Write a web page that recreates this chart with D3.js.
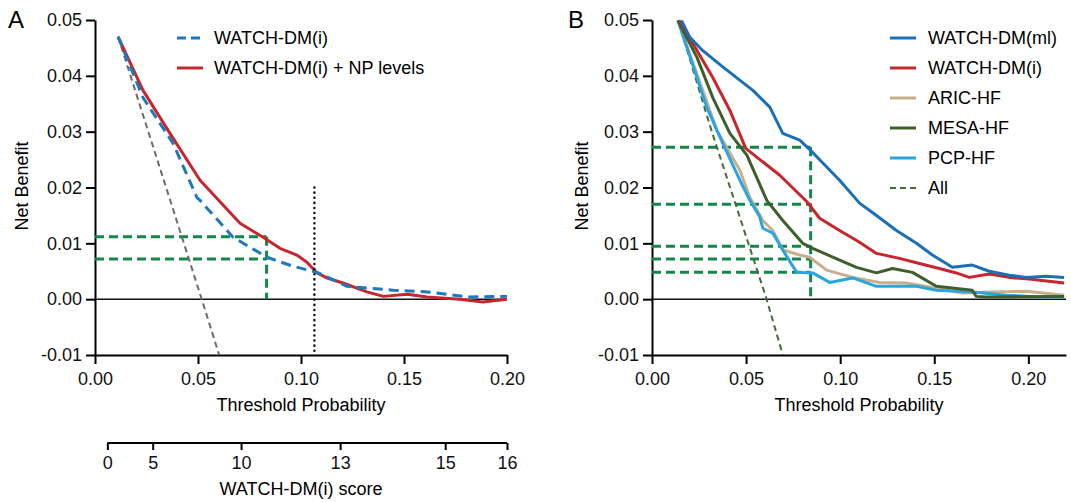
<!DOCTYPE html>
<meta charset="utf-8">
<script src="https://d3js.org/d3.v7.min.js"></script>
<style>
  body { margin: 0; background: #fff; }
  svg text { font-family: "Liberation Sans", Arial, sans-serif; }
</style>
<div id="chart"></div>
<script>

// ---- Panel A data (threshold probability, net benefit) ----
var watchI_x = [0.0112, 0.0233, 0.0379, 0.0495, 0.051, 0.067, 0.0835, 0.0961, 0.1078, 0.1223, 0.1447, 0.1612, 0.1806, 0.2]
var watchI_y = [0.047, 0.0361, 0.0279, 0.0182, 0.0177, 0.0111, 0.0075, 0.0059, 0.0048, 0.0023, 0.0016, 0.0013, 0.0004, 0.0005]

var watchNP_x = [0.0112, 0.0233, 0.0364, 0.051, 0.0704, 0.0816, 0.0898, 0.098, 0.1029, 0.1078, 0.1126, 0.1204, 0.132, 0.14, 0.1515, 0.1612, 0.177, 0.1883, 0.2]
var watchNP_y = [0.047, 0.0374, 0.0297, 0.0213, 0.0136, 0.0111, 0.0091, 0.0079, 0.0066, 0.0047, 0.0038, 0.0029, 0.0013, 0.0005, 0.0009, 0.0004, 0.0, -0.0005, 0.0]

var allA_x = [0.0112, 0.0518, 0.0603]
var allA_y = [0.047, 0.0, -0.01]

var guideA_x = 0.0833
var guideA_y = [0.0112, 0.0072]
var cutoffA = 0.1065

// secondary axis: WATCH-DM(i) score vs threshold probability
var scoreTicks = [0, 5, 10, 13, 15, 16]
var scoreProb = [0.006, 0.028, 0.0709, 0.119, 0.170, 0.2]

// ---- Panel B data ----
var ml_x = [0.0157, 0.0201, 0.027, 0.0376, 0.0536, 0.0626, 0.0695, 0.0785, 0.0838, 0.0997, 0.1103, 0.1193, 0.1299, 0.1405, 0.149, 0.1596, 0.1702, 0.1792, 0.1898, 0.1988, 0.2094, 0.219]
var ml_y = [0.0499, 0.0469, 0.0445, 0.0416, 0.0374, 0.0344, 0.0297, 0.0285, 0.0268, 0.0213, 0.0172, 0.015, 0.0123, 0.01, 0.0079, 0.0057, 0.0061, 0.005, 0.0043, 0.0039, 0.0041, 0.0039]

var iB_x = [0.0148, 0.0217, 0.0323, 0.0414, 0.0498, 0.0679, 0.0822, 0.0891, 0.0997, 0.1103, 0.1193, 0.1315, 0.1421, 0.1527, 0.1617, 0.1686, 0.1792, 0.1898, 0.2004, 0.219]
var iB_y = [0.0499, 0.0458, 0.0397, 0.0338, 0.027, 0.0222, 0.0175, 0.0145, 0.0123, 0.0102, 0.0082, 0.0073, 0.0064, 0.0055, 0.0047, 0.0039, 0.0045, 0.0039, 0.0036, 0.0029]

var aric_x = [0.0138, 0.0345, 0.0467, 0.052, 0.0589, 0.0642, 0.0695, 0.0785, 0.0838, 0.0928, 0.1066, 0.1209, 0.1352, 0.149, 0.1649, 0.1792, 0.1988, 0.219]
var aric_y = [0.0499, 0.0302, 0.0231, 0.0182, 0.0141, 0.0123, 0.0088, 0.0079, 0.0075, 0.0052, 0.0039, 0.003, 0.0029, 0.0021, 0.0011, 0.0013, 0.0014, 0.0007]

var mesa_x = [0.0138, 0.0239, 0.0323, 0.0414, 0.0504, 0.061, 0.0695, 0.0801, 0.0854, 0.0997, 0.1087, 0.1193, 0.1278, 0.1384, 0.1511, 0.1702, 0.1723, 0.1776, 0.219]
var mesa_y = [0.0499, 0.0433, 0.0361, 0.0297, 0.0258, 0.0177, 0.0141, 0.01, 0.0091, 0.007, 0.0057, 0.0047, 0.0055, 0.0048, 0.0023, 0.0016, 0.0005, 0.0004, 0.0005]

var pcp_x = [0.0138, 0.0292, 0.0376, 0.0467, 0.052, 0.0573, 0.0589, 0.0642, 0.0695, 0.0769, 0.0854, 0.0944, 0.1066, 0.1193, 0.1405, 0.1511, 0.1702, 0.1882, 0.2057, 0.219]
var pcp_y = [0.0499, 0.0343, 0.0279, 0.0213, 0.0177, 0.0147, 0.0127, 0.0118, 0.0088, 0.0048, 0.0047, 0.003, 0.0038, 0.0023, 0.0023, 0.0016, 0.0013, 0.0007, 0.0004, 0.0004]

var allB_x = [0.0138, 0.0316, 0.0609, 0.0695]
var allB_y = [0.05, 0.0302, 0.0, -0.01]

var guideB_x = 0.0843
var guideB_y = [0.0272, 0.017, 0.0095, 0.0072, 0.0048]

var yTicks = [-0.01, 0.00, 0.01, 0.02, 0.03, 0.04, 0.05]
var xTicks = [0.00, 0.05, 0.10, 0.15, 0.20]

var green = "#12874a"
var fs = "18px"

function zip(xs, ys) { return xs.map(function(x, i) { return [x, ys[i]] }) }

var svg = d3.select("#chart").append("svg")
  .attr("width", 1071).attr("height", 502)

var y = d3.scaleLinear().domain([-0.01, 0.05]).range([355, 20])
var fmt = function(d) { return d.toFixed(2) }

function drawAxes(x, left, labelX) {
  svg.append("g")
    .attr("transform", "translate(0,355)")
    .call(d3.axisBottom(x).tickValues(xTicks).tickFormat(fmt).tickSize(9).tickSizeOuter(0).tickPadding(8))
  svg.append("g")
    .attr("transform", "translate(" + left + ",0)")
    .call(d3.axisLeft(y).tickValues(yTicks).tickFormat(fmt).tickSize(9).tickSizeOuter(0).tickPadding(4))

  svg.selectAll(".domain").attr("stroke-width", 2)
  svg.selectAll(".tick line").attr("stroke-width", 2)
  svg.selectAll(".tick text").style("font-size", fs).attr("fill", "#111")

  // zero line
  svg.append("line")
    .attr("x1", x.range()[0]).attr("x2", x.range()[1])
    .attr("y1", y(0)).attr("y2", y(0))
    .attr("stroke", "#111").attr("stroke-width", 1.5)

  svg.append("text")
    .attr("x", (x.range()[0] + x.range()[1]) / 2).attr("y", 411)
    .attr("text-anchor", "middle").style("font-size", fs)
    .text("Threshold Probability")
  svg.append("text")
    .attr("transform", "translate(" + labelX + "," + 186 + ") rotate(-90)")
    .attr("text-anchor", "middle").style("font-size", fs)
    .text("Net Benefit")
}

function drawLine(x, data, color, width, dash) {
  var line = d3.line().x(d => x(d[0])).y(d => y(d[1]))
  svg.append("path")
    .datum(data)
    .attr("d", line)
    .attr("fill", "none")
    .attr("stroke", color)
    .attr("stroke-width", width)
    .attr("stroke-dasharray", dash || null)
    .attr("stroke-linejoin", "round")
}

function drawGuides(x, gx, gys) {
  gys.forEach(function(gy) {
    svg.append("line")
      .attr("x1", x(0)).attr("x2", x(gx))
      .attr("y1", y(gy)).attr("y2", y(gy))
      .attr("stroke", green).attr("stroke-width", 3).attr("stroke-dasharray", "9,5")
  })
  svg.append("line")
    .attr("x1", x(gx)).attr("x2", x(gx))
    .attr("y1", y(d3.max(gys))).attr("y2", y(0))
    .attr("stroke", green).attr("stroke-width", 3).attr("stroke-dasharray", "9,5")
}

// ================= Panel A =================
var xA = d3.scaleLinear().domain([0, 0.2]).range([95, 507])
drawAxes(xA, 95, 28)

drawGuides(xA, guideA_x, guideA_y)
drawLine(xA, zip(allA_x, allA_y), "#6b6b6b", 2, "6,4")
drawLine(xA, zip(watchNP_x, watchNP_y), "#c4282e", 3)
drawLine(xA, zip(watchI_x, watchI_y), "#1f77c2", 3, "10,6")

svg.append("line")
  .attr("x1", xA(cutoffA)).attr("x2", xA(cutoffA))
  .attr("y1", y(0.02)).attr("y2", y(-0.01))
  .attr("stroke", "#111").attr("stroke-width", 2.5)
  .attr("stroke-dasharray", "0.1,5").attr("stroke-linecap", "round")

svg.append("text").attr("x", 8).attr("y", 28).style("font-size", "24px").text("A")

// legend A
var legA = [["WATCH-DM(i)", "#1f77c2", "10,6"], ["WATCH-DM(i) + NP levels", "#c4282e", null]]
legA.forEach(function(d, i) {
  var ly = 38 + i * 30
  svg.append("line").attr("x1", 177).attr("x2", 203).attr("y1", ly).attr("y2", ly)
    .attr("stroke", d[1]).attr("stroke-width", 3).attr("stroke-dasharray", d[2] ? "9,5" : null)
  svg.append("text").attr("x", 214).attr("y", ly).attr("dy", "0.35em")
    .style("font-size", fs).text(d[0])
})

// secondary score axis
var scoreToProb = d3.scaleLinear().domain(scoreTicks).range(scoreProb)
var sAxis = d3.axisBottom(d3.scaleLinear().domain([0, 0.2]).range([95, 507]))
  .tickValues(scoreTicks.map(s => scoreToProb(s)))
  .tickFormat((d, i) => scoreTicks[i])
  .tickSize(7).tickSizeOuter(0).tickPadding(6)
var sg = svg.append("g").attr("transform", "translate(0,443)").call(sAxis)
sg.select(".domain").attr("d", "M" + xA(scoreProb[0]) + ",0H" + xA(scoreProb[scoreProb.length - 1]))
  .attr("stroke-width", 2)
sg.selectAll(".tick line").attr("stroke-width", 2)
sg.selectAll(".tick text").style("font-size", fs).attr("fill", "#111")
svg.append("text").attr("x", 301).attr("y", 495).attr("text-anchor", "middle")
  .style("font-size", fs).text("WATCH-DM(i) score")

// ================= Panel B =================
var xB = d3.scaleLinear().domain([0, 0.22]).range([652, 1066])
drawAxes(xB, 652, 588)

drawGuides(xB, guideB_x, guideB_y)
drawLine(xB, zip(allB_x, allB_y), "#496b35", 2, "6,4")
drawLine(xB, zip(aric_x, aric_y), "#c9ae8c", 3)
drawLine(xB, zip(pcp_x, pcp_y), "#2aa5df", 3)
drawLine(xB, zip(mesa_x, mesa_y), "#3e5f2b", 3)
drawLine(xB, zip(iB_x, iB_y), "#c4282e", 3)
drawLine(xB, zip(ml_x, ml_y), "#1a6fb5", 3)

svg.append("text").attr("x", 568).attr("y", 28).style("font-size", "24px").text("B")

var legB = [
  ["WATCH-DM(ml)", "#1a6fb5", null],
  ["WATCH-DM(i)", "#c4282e", null],
  ["ARIC-HF", "#c9ae8c", null],
  ["MESA-HF", "#3e5f2b", null],
  ["PCP-HF", "#2aa5df", null],
  ["All", "#496b35", "6,4"]
]
legB.forEach(function(d, i) {
  var ly = 38 + i * 30
  svg.append("line").attr("x1", 890).attr("x2", 916).attr("y1", ly).attr("y2", ly)
    .attr("stroke", d[1]).attr("stroke-width", d[2] ? 2 : 3).attr("stroke-dasharray", d[2])
  svg.append("text").attr("x", 928).attr("y", ly).attr("dy", "0.35em")
    .style("font-size", fs).text(d[0])
})

</script>
